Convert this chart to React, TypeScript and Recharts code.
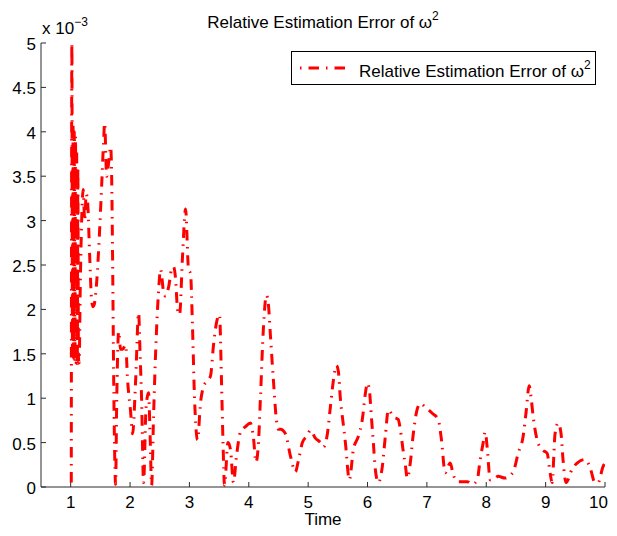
import React from 'react';
import { LineChart, Line, XAxis, YAxis, Legend } from 'recharts';

// Time (s)
const timeValues = [
  1.010, 1.020, 1.030, 1.040, 1.050, 1.061, 1.071, 1.081, 1.091, 1.101,
  1.111, 1.121, 1.131, 1.143, 1.160, 1.185, 1.210, 1.236, 1.261, 1.286,
  1.320, 1.353, 1.378, 1.395, 1.437, 1.488, 1.522, 1.555, 1.572,
  1.606, 1.639, 1.673, 1.690, 1.707, 1.723, 1.740, 1.757, 1.774, 1.791,
  1.808, 1.841, 1.875, 1.925, 1.959, 2.009, 2.043, 2.094, 2.144, 2.169,
  2.194, 2.228, 2.270, 2.312, 2.337, 2.363, 2.396, 2.430, 2.480, 2.514,
  2.564, 2.598, 2.649, 2.699, 2.733, 2.766, 2.800, 2.834, 2.884, 2.935,
  2.985, 3.019, 3.052, 3.086, 3.137, 3.187, 3.238, 3.305, 3.355, 3.406,
  3.456, 3.507, 3.540, 3.566, 3.591, 3.650, 3.692, 3.742, 3.793, 3.860,
  3.944, 4.028, 4.079, 4.121, 4.163, 4.196, 4.247, 4.297, 4.331, 4.365,
  4.415, 4.466, 4.499, 4.533, 4.617, 4.701, 4.785, 4.836, 4.903, 4.987,
  5.038, 5.122, 5.206, 5.256, 5.324, 5.374, 5.425, 5.475, 5.509, 5.542,
  5.593, 5.627, 5.694, 5.761, 5.845, 5.912, 5.963, 5.997, 6.030, 6.064,
  6.098, 6.131, 6.182, 6.249, 6.300, 6.350, 6.434, 6.518, 6.552, 6.602,
  6.636, 6.670, 6.720, 6.771, 6.838, 6.888, 6.972, 7.090, 7.191, 7.242,
  7.309, 7.393, 7.443, 7.528, 7.679, 7.763, 7.847, 7.898, 7.948, 7.982,
  8.015, 8.066, 8.116, 8.201, 8.318, 8.453, 8.537, 8.621, 8.672, 8.722,
  8.756, 8.789, 8.857, 8.941, 9.025, 9.075, 9.109, 9.159, 9.210, 9.260,
  9.294, 9.344, 9.445, 9.530, 9.664, 9.748, 9.832, 9.883, 9.967, 10.0,
];

// Relative estimation error of omega^2, in units of 1e-3
const errorValues = [
  0.05, 5.0, 1.5, 4.05, 1.45, 4.0, 1.4, 3.95, 1.4, 3.75,
  1.35, 3.6, 1.45, 1.4, 2.2, 3.0, 3.35, 3.0, 3.3, 3.2,
  2.6, 2.1, 2.03, 2.05, 2.3, 2.9, 3.4, 3.9, 4.1,
  3.5, 3.65, 3.83, 3.5, 2.5, 1.3, 0.4, 0.03, 0.9, 1.5,
  1.75, 1.55, 1.55, 1.6, 1.2, 0.85, 0.6, 1.2, 1.96, 1.5,
  1.0, 0.05, 0.9, 1.06, 0.6, 0.02, 0.8, 1.5, 2.2, 2.45,
  2.2, 2.15, 2.25, 2.45, 2.48, 2.35, 2.0, 1.94, 2.6, 3.13,
  2.45, 2.4, 1.8, 1.0, 0.53, 0.95, 1.13, 1.2, 1.25, 1.6,
  1.85, 1.94, 1.2, 0.5, 0.02, 0.5, 0.42, 0.05, 0.35, 0.62,
  0.68, 0.72, 0.55, 0.28, 0.5, 1.0, 1.8, 2.16, 2.05, 1.7,
  1.2, 0.75, 0.65, 0.65, 0.6, 0.35, 0.17, 0.3, 0.5, 0.58,
  0.64, 0.55, 0.5, 0.45, 0.6, 0.9, 1.2, 1.37, 1.3, 1.0,
  0.7, 0.5, 0.08, 0.42, 0.57, 0.76, 1.05, 1.17, 1.1, 0.8,
  0.5, 0.2, 0.05, 0.23, 0.57, 0.87, 0.79, 0.76, 0.65, 0.4,
  0.25, 0.1, 0.27, 0.6, 0.88, 0.94, 0.9, 0.83, 0.76, 0.55,
  0.16, 0.27, 0.14, 0.06, 0.06, 0.03, 0.08, 0.31, 0.5, 0.62,
  0.45, 0.08, 0.08, 0.12, 0.1, 0.17, 0.38, 0.57, 0.85, 1.14,
  1.0, 0.8, 0.53, 0.42, 0.38, 0.16, 0.05, 0.6, 0.72, 0.6,
  0.3, 0.05, 0.2, 0.27, 0.31, 0.22, 0.05, 0.05, 0.23, 0.27,
];

const xTicks = [1, 2, 3, 4, 5, 6, 7, 8, 9, 10];
const yTicks = [0, 0.5, 1, 1.5, 2, 2.5, 3, 3.5, 4, 4.5, 5];

const seriesName = 'Relative Estimation Error of ω';
const titleText = 'Relative Estimation Error of ω';

const data = timeValues.map((t, i) => ({ t, e: errorValues[i] }));

const FONT = '"Liberation Sans", Arial, Helvetica, sans-serif';
const AXIS = '#2b2b2b';
const DASH = '10.5 6.5 1.5 6.5';
const VISIBLE_RIGHT = 608;

const XTick = (props: any) => {
  const { x, y, payload } = props;
  const label = String(payload.value);
  const halfW = label.length * 17 * 0.556 * 0.5;
  const overflow = x + halfW > VISIBLE_RIGHT;
  return (
    <g>
      <line x1={x} y1={y} x2={x} y2={y - 5} stroke={AXIS} strokeWidth={1} />
      <text
        x={overflow ? VISIBLE_RIGHT : x}
        y={y + 21}
        textAnchor={overflow ? 'end' : 'middle'}
        fontSize={17}
        fontFamily={FONT}
        fill="#000"
      >
        {label}
      </text>
    </g>
  );
};

const YTick = (props: any) => {
  const { x, y, payload } = props;
  return (
    <g>
      <line x1={x} y1={y} x2={x + 5} y2={y} stroke={AXIS} strokeWidth={1} />
      <text x={x - 5} y={y + 7} textAnchor="end" fontSize={17} fontFamily={FONT} fill="#000">
        {String(payload.value)}
      </text>
    </g>
  );
};

const LegendBox = () => (
  <div
    style={{
      boxSizing: 'border-box',
      width: 305,
      height: 34,
      border: '1px solid #000',
      background: '#fff',
      position: 'relative',
    }}
  >
    <svg width={305} height={34} style={{ position: 'absolute', left: -1, top: -1 }}>
      <line x1={9} x2={61} y1={17} y2={17} stroke="#ff0000" strokeWidth={3} strokeDasharray="1.5 7 10.5 7" />
      <text x={68} y={26} fontSize={17} fontFamily={FONT} fill="#000">
        {seriesName}
        <tspan dy={-8} fontSize={12}>2</tspan>
      </text>
    </svg>
  </div>
);

export default function App() {
  return (
    <div style={{ position: 'relative', width: 617, height: 536, margin: -8, background: '#fff' }}>
      <LineChart width={617} height={536} data={data} margin={{ top: 43, right: 12, bottom: 0, left: 0 }}>
        <XAxis
          dataKey="t"
          type="number"
          domain={[0.5, 10]}
          ticks={xTicks}
          height={49}
          tickSize={0}
          tickMargin={0}
          tick={<XTick />}
          axisLine={{ stroke: AXIS, strokeWidth: 1 }}
          tickLine={false}
          allowDataOverflow
        />
        <YAxis
          type="number"
          domain={[0, 5]}
          ticks={yTicks}
          width={41}
          tickSize={0}
          tickMargin={0}
          tick={<YTick />}
          axisLine={{ stroke: AXIS, strokeWidth: 1 }}
          tickLine={false}
          interval={0}
          allowDataOverflow
        />
        <Legend
          layout="vertical"
          align="center"
          verticalAlign="middle"
          wrapperStyle={{ position: 'absolute', left: 291, top: 51, width: 305, height: 34 }}
          content={<LegendBox />}
        />
        <Line
          type="monotone"
          dataKey="e"
          name={seriesName}
          stroke="#ff0000"
          strokeWidth={3}
          strokeDasharray={DASH}
          dot={false}
          activeDot={false}
          isAnimationActive={false}
        />
      </LineChart>
      <svg
        width={617}
        height={536}
        style={{ position: 'absolute', left: 0, top: 0, pointerEvents: 'none' }}
      >
        <text x={323} y={28} textAnchor="middle" fontSize={17} fontFamily={FONT} fill="#000">
          {titleText}
          <tspan dy={-8} fontSize={12}>2</tspan>
        </text>
        <text x={42} y={34} fontSize={17} fontFamily={FONT} fill="#000">
          x 10
          <tspan dy={-8} fontSize={12}>−3</tspan>
        </text>
        <text x={323} y={525} textAnchor="middle" fontSize={17} fontFamily={FONT} fill="#000">
          Time
        </text>
      </svg>
    </div>
  );
}
